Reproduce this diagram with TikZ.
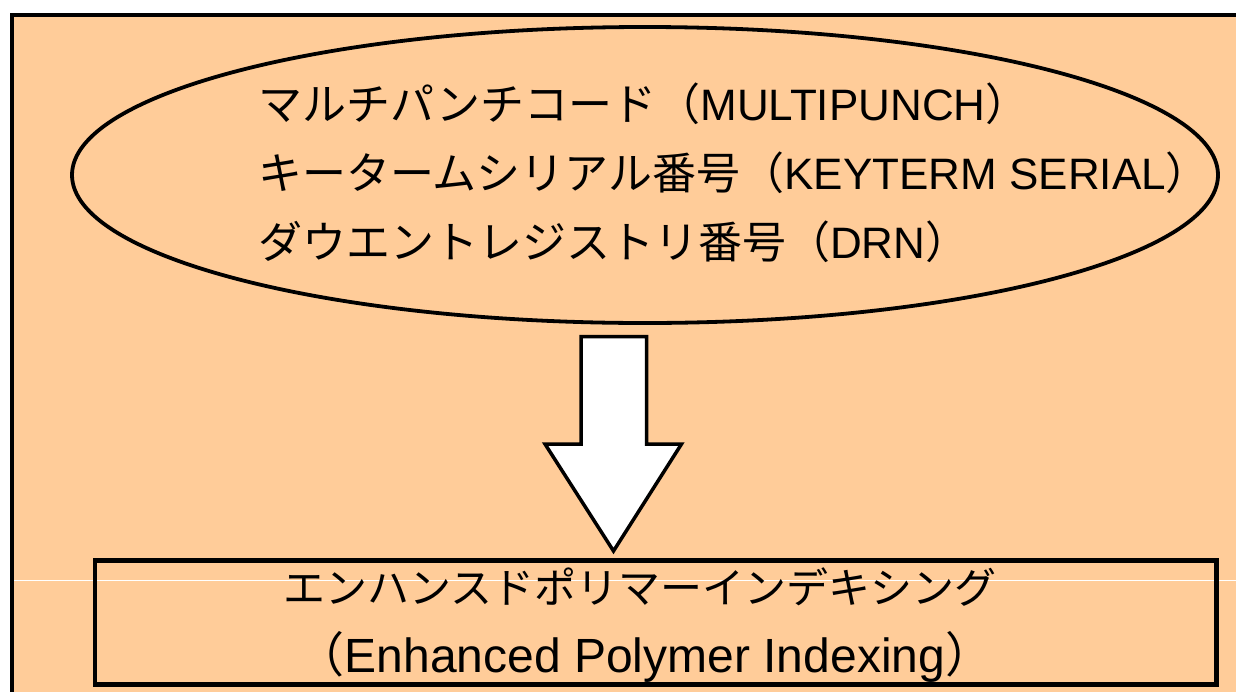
\documentclass[tikz,border=0pt]{standalone}
\usepackage{fontspec}
\usetikzlibrary{shapes.geometric}
\setmainfont{Liberation Sans}
\newfontfamily\jp{Noto Sans CJK JP}
\definecolor{peach}{RGB}{255,204,153}
\tikzset{
  frameline/.style={line width=4pt},
  outline/.style={draw=black, line width=3.8pt},
  txt/.style={inner sep=0pt, anchor=base west, font=\fontsize{44}{44}\selectfont},
  ctxt/.style={inner sep=0pt, anchor=base, font=\fontsize{44}{44}\selectfont},
}
\begin{document}
\begin{tikzpicture}[x=1pt,y=-1pt]
\useasboundingbox (0,0) rectangle (1236,691);
% background panel
\fill[peach] (11.5,14.5) rectangle (1240,695);
\draw[white, line width=1pt] (13,580) -- (1240,580);
\draw[frameline] (11.5,695) -- (11.5,14.5) -- (1240,14.5);
% ellipse
\node[outline, fill=peach, ellipse, minimum width=1146pt, minimum height=296pt, inner sep=0pt] (ell) at (645,175) {};
\node[txt] (t1) at (258,120) {{\jp マルチパンチコード（}MULTIPUNCH{\jp ）}};
\node[txt] (t2) at (258,189) {{\jp キータームシリアル番号（}KEYTERM SERIAL{\jp ）}};
\node[txt] (t3) at (258,258) {{\jp ダウエントレジストリ番号（}DRN{\jp ）}};
% block arrow
\draw[fill=white, line width=3.5pt, line join=miter]
  (581,336.5) -- (646.5,336.5) -- (646.5,444) -- (681.5,444) -- (613.5,551)
  -- (545,444) -- (581,444) -- cycle;
% bottom box
\node[draw=black, line width=4.5pt, minimum width=1121.5pt, minimum height=124pt, inner sep=0pt] (box) at (655.75,622.5) {};
\node[ctxt, font=\fontsize{42}{42}\selectfont] (b1) at (640,603) {\jp エンハンスドポリマーインデキシング};
\node[ctxt, font=\fontsize{48}{48}\selectfont] (b2) at (645,672) {{\jp （}Enhanced Polymer Indexing{\jp ）}};
\end{tikzpicture}
\end{document}
